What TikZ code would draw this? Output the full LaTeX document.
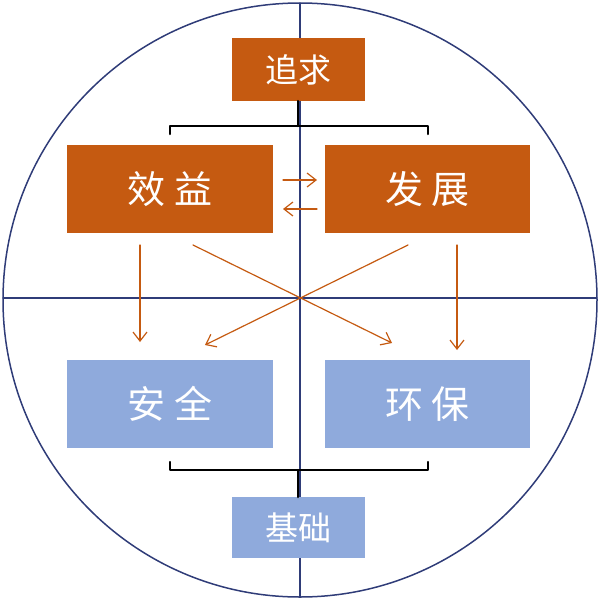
\documentclass[tikz,border=0pt]{standalone}
\usepackage{fontspec}
\newfontfamily\cjk{Noto Sans CJK SC}
\usetikzlibrary{arrows.meta}
\definecolor{rust}{RGB}{197,90,17}
\definecolor{pale}{RGB}{143,170,220}
\definecolor{navy}{RGB}{47,60,120}
\tikzset{
  flow/.style={draw=rust,line width=1.2pt,-{Straight Barb[length=9pt,width=14pt,line width=1.2pt]}}
}
\begin{document}
\begin{tikzpicture}[line cap=round,line join=round,x=1pt,y=-1pt]
\useasboundingbox (0,0) rectangle (600,600);
\draw[navy,line width=1.5pt] (300,300) circle (297);
\draw[navy,line width=1.3pt] (3,298)--(597,298);
\draw[navy,line width=1.3pt] (300,3)--(300,597);
%
\fill[rust] (232,38) rectangle (365,101);
\node[text=white,font=\cjk\fontsize{33}{33}\selectfont] (goal) at (298.5,69.5) {追求};
\fill[rust] (67,145) rectangle (273,233);
\node[text=white,font=\cjk\fontsize{38}{38}\selectfont] (gain) at (170,189) {效\ 益};
\fill[rust] (325,145) rectangle (530,233);
\node[text=white,font=\cjk\fontsize{38}{38}\selectfont] (grow) at (427.5,189) {发\ 展};
\fill[pale] (67,360) rectangle (273,448);
\node[text=white,font=\cjk\fontsize{38}{38}\selectfont] (safe) at (170,404) {安\ 全};
\fill[pale] (325,360) rectangle (530,448);
\node[text=white,font=\cjk\fontsize{38}{38}\selectfont] (eco) at (427.5,404) {环\ 保};
\fill[pale] (232,497) rectangle (365,558);
\node[text=white,font=\cjk\fontsize{33}{33}\selectfont] (base) at (298.5,527.5) {基础};
%
\draw[line width=2.5pt] (170,134)--(170,126)--(428,126)--(428,134);
\draw[line width=2.5pt] (298,126)--(298,101);
\draw[line width=2.5pt] (170,462)--(170,470)--(428,470)--(428,462);
\draw[line width=2.5pt] (298,470)--(298,497);
%
\coordinate (a1) at (140,245); \coordinate (b1) at (140,342);
\coordinate (a2) at (457,245); \coordinate (b2) at (457,350);
\coordinate (a3) at (193,245); \coordinate (b3) at (392,343);
\coordinate (a4) at (408,245); \coordinate (b4) at (205,345);
\coordinate (r1) at (283,180); \coordinate (r2) at (317,180);
\coordinate (l1) at (317,209); \coordinate (l2) at (283,209);
\foreach \s/\e in {a1/b1,a2/b2,a3/b3,a4/b4,r1/r2,l1/l2}
  \draw[flow] (\s)--(\e);
\end{tikzpicture}
\end{document}
